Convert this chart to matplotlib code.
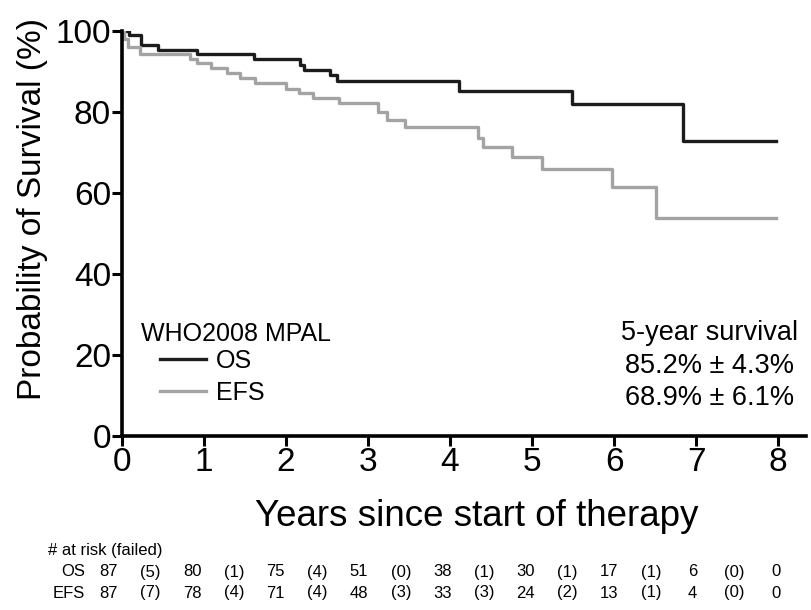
import matplotlib
matplotlib.use("Agg")
import matplotlib.pyplot as plt
import matplotlib.transforms as mtransforms

plt.rcParams['font.family'] = ['Liberation Sans', 'DejaVu Sans']

# ---- data ----
os_time = [0, 0.08, 0.23, 0.44, 0.92, 1.61, 2.17, 2.22, 2.54, 2.62, 4.11, 5.49, 6.84, 7.97]
os_surv = [100, 99.0, 96.6, 95.4, 94.2, 93.0, 91.6, 90.4, 89.1, 87.7, 85.3, 81.9, 72.8, 72.8]

efs_time = [0, 0.03, 0.07, 0.22, 0.83, 0.91, 1.09, 1.28, 1.44, 1.62, 2.00, 2.16, 2.33, 2.64,
            3.12, 3.23, 3.45, 4.34, 4.40, 4.75, 5.12, 5.98, 6.51, 7.97]
efs_surv = [100, 98.0, 96.1, 94.2, 93.2, 92.0, 90.8, 89.6, 88.3, 87.1, 85.8, 84.6, 83.4, 82.1,
            80.1, 78.0, 76.2, 73.7, 71.3, 68.8, 65.9, 61.6, 53.9, 53.9]

series_names = ["OS", "EFS"]
risk_years = [0, 1, 2, 3, 4, 5, 6, 7, 8]
os_at_risk = [87, 80, 75, 51, 38, 30, 17, 6, 0]
os_failed = [5, 1, 4, 0, 1, 1, 1, 0]
efs_at_risk = [87, 78, 71, 48, 33, 24, 13, 4, 0]
efs_failed = [7, 4, 4, 3, 3, 2, 1, 0]

legend_title = "WHO2008 MPAL"
surv_title = "5-year survival"
surv_lines = ["85.2% \u00b1 4.3%", "68.9% \u00b1 6.1%"]

x_ticks = [0, 1, 2, 3, 4, 5, 6, 7, 8]
y_ticks = [0, 20, 40, 60, 80, 100]

os_color = "#1c1c1c"
efs_color = "#a3a3a3"

# ---- figure ----
fig = plt.figure(figsize=(8.11, 6.10), dpi=100)
ax = fig.add_axes([122 / 811, 1 - 436 / 610, (806 - 122) / 811, 405 / 610])

l_os, = ax.step(os_time, os_surv, where="post", color=os_color, lw=2.4, label=series_names[0])
l_efs, = ax.step(efs_time, efs_surv, where="post", color=efs_color, lw=2.4, label=series_names[1])

ax.set_xlim(0, 8.34)
ax.set_ylim(0, 100)
ax.set_xticks(x_ticks)
ax.set_yticks(y_ticks)
for s in ["top", "right"]:
    ax.spines[s].set_visible(False)
for s in ["left", "bottom"]:
    ax.spines[s].set_linewidth(2.6)
ax.tick_params(axis="both", direction="out", length=7, width=2.2, labelsize=24, pad=1)

ax.set_xlabel("Years since start of therapy", fontsize=26.5)
ax.xaxis.set_label_coords(0.519, -0.155)
ax.set_ylabel("Probability of Survival (%)", fontsize=24)
ax.yaxis.set_label_coords(-0.108, 0.56)

# legend
ax.text(0.23, 25.2, legend_title, fontsize=18, ha="left", va="center")
leg = ax.legend(handles=[l_os, l_efs], loc="upper left", bbox_to_anchor=(0.46 / 8.34, 21.6 / 100),
                frameon=False, fontsize=18, handlelength=1.85, handletextpad=0.4,
                labelspacing=0.33, borderpad=0, borderaxespad=0)

# 5-year survival annotation
ax.text(7.16, 25.4, surv_title, fontsize=19.5, ha="center", va="center")
ax.text(7.16, 17.3, surv_lines[0], fontsize=19.5, ha="center", va="center")
ax.text(7.16, 9.4, surv_lines[1], fontsize=19.5, ha="center", va="center")

# risk table (x in data coords, y in figure coords)
trans = mtransforms.blended_transform_factory(ax.transData, fig.transFigure)
tfont = dict(fontsize=12, family=["Liberation Sans Narrow", "Liberation Sans", "DejaVu Sans"])
col_x = [-0.16 + 1.017 * t for t in risk_years]
row_y = [1 - 572 / 610, 1 - 593 / 610]
ax.text(-0.90, 1 - 551 / 610, "# at risk (failed)", transform=trans, ha="left", va="center", **tfont)
for name, yv, at_risk, failed in [(series_names[0], row_y[0], os_at_risk, os_failed),
                                  (series_names[1], row_y[1], efs_at_risk, efs_failed)]:
    ax.text(-0.45, yv, name, transform=trans, ha="right", va="center", **tfont)
    for i, n in enumerate(at_risk):
        ax.text(col_x[i], yv, str(n), transform=trans, ha="center", va="center", **tfont)
    for i, f in enumerate(failed):
        xm = (col_x[i] + col_x[i + 1]) / 2
        ax.text(xm, yv, "(%d)" % f, transform=trans, ha="center", va="center", **tfont)

for a in fig.texts + ax.texts:
    a.set_clip_on(False)

fig.savefig("out.png", dpi=100, facecolor="white")
